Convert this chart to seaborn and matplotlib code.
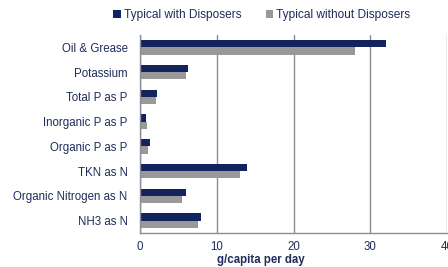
import matplotlib
matplotlib.use("Agg")
import matplotlib.pyplot as plt
import seaborn as sns
import pandas as pd
import numpy as np

categories = ["Oil & Grease", "Potassium", "Total P as P", "Inorganic P as P",
              "Organic P as P", "TKN as N", "Organic Nitrogen as N", "NH3 as N"]
with_disposers = [32.0, 6.2, 2.2, 0.8, 1.35, 13.9, 6.0, 7.9]
without_disposers = [28.0, 6.0, 2.1, 0.9, 1.1, 13.0, 5.5, 7.6]
series = ["Typical with Disposers", "Typical without Disposers"]
xticks = [0, 10, 20, 30, 40]

sns.set_theme(style="white")
plt.rcParams['font.family'] = ['Liberation Sans', 'DejaVu Sans']

df = pd.DataFrame({
    "cat": categories * 2,
    "val": with_disposers + without_disposers,
    "series": [series[0]] * len(categories) + [series[1]] * len(categories),
})

navy = "#13235E"
gray = "#999999"
txt = "#1F2D5A"
grid = "#8C8C96"
fs = 8.3

fig = plt.figure(figsize=(4.48, 2.67), dpi=100)
ax = fig.add_axes([140/448, 1 - 233/267, 307/448, (233-35)/267])

sns.barplot(data=df, y="cat", x="val", hue="series", orient="h",
            palette=[navy, gray], width=0.58, ax=ax, legend=True,
            saturation=1, edgecolor="none")

ax.set_xlim(0, 40)
ax.set_ylim(len(categories) - 0.5, -0.5)
ax.set_xticks(xticks)
ax.set_xticklabels([str(t) for t in xticks], color=txt, fontsize=fs)
ax.xaxis.grid(True, color=grid, linewidth=1)
ax.set_axisbelow(True)
ax.tick_params(axis='x', length=0, pad=6)
ax.tick_params(axis='y', which='major', length=0, labelsize=fs, labelcolor=txt, pad=9)
ax.set_yticks(np.arange(-0.5, len(categories) + 0.5, 1), minor=True)
ax.tick_params(axis='y', which='minor', length=4, color=grid, width=1, direction='out')

ax.spines["top"].set_visible(False)
ax.spines["right"].set_visible(False)
ax.spines["left"].set_color(grid)
ax.spines["bottom"].set_color(grid)
ax.spines["left"].set_linewidth(1)
ax.spines["bottom"].set_linewidth(1)

ax.set_ylabel("")
ax.set_xlabel("g/capita per day", fontsize=fs, fontweight="bold", color=txt)
ax.xaxis.set_label_coords((261 - 140) / 307, -0.108)

leg = ax.legend(loc="center", bbox_to_anchor=(262/448, 1 - 15/267),
                bbox_transform=fig.transFigure, ncol=2, frameon=False,
                fontsize=fs + 0.3, handlelength=0.6, handleheight=0.6,
                handletextpad=0.3, columnspacing=2.0)
for t in leg.get_texts():
    t.set_color(txt)

fig.savefig("out.png", dpi=100)
